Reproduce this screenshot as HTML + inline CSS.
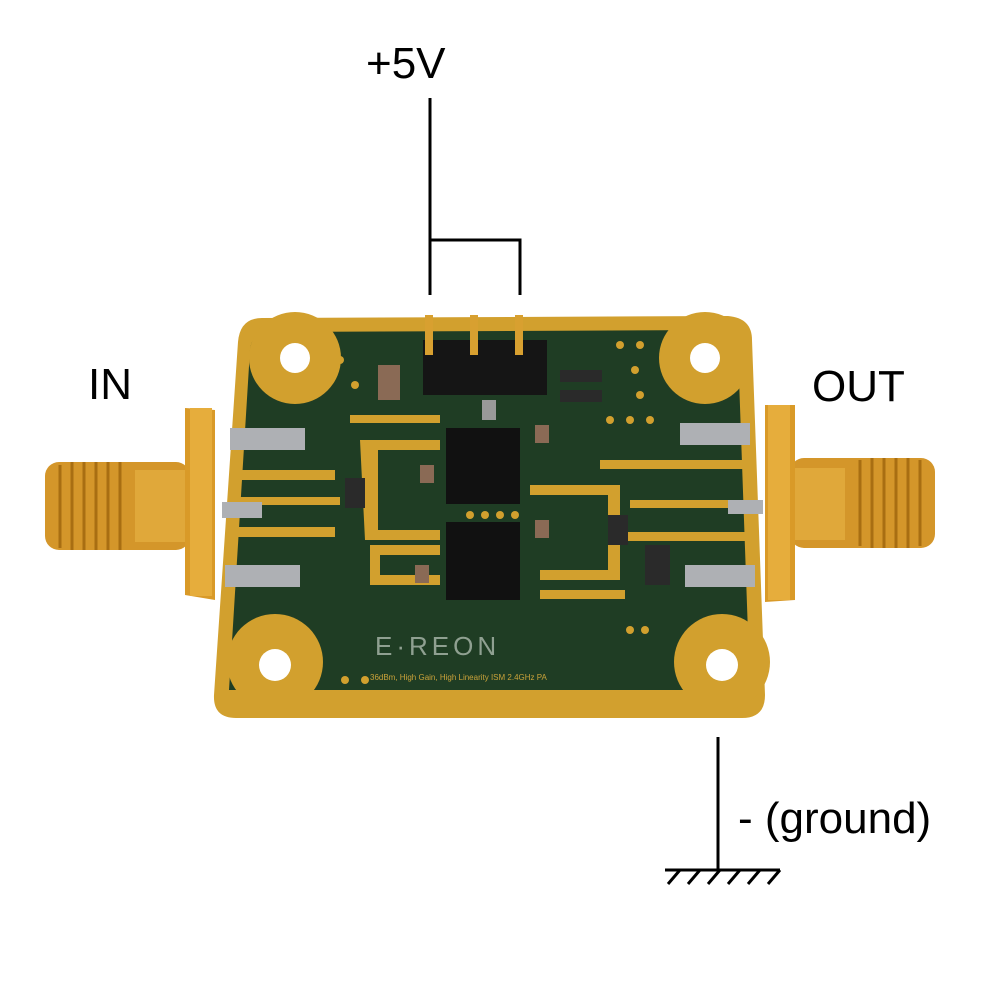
<!DOCTYPE html>
<html><head><style>
html,body{margin:0;padding:0;background:#fff;}
svg{display:block}
text{font-family:"Liberation Sans",sans-serif;}
</style></head><body>
<svg width="1000" height="1000" viewBox="0 0 1000 1000">
<rect width="1000" height="1000" fill="#fff"/>
<!-- labels -->
<text x="366" y="78" font-size="44" fill="#000">+5V</text>
<text x="88" y="399" font-size="44" fill="#000">IN</text>
<text x="812" y="401" font-size="44" fill="#000">OUT</text>
<text x="738" y="833" font-size="44" fill="#000">- (ground)</text>
<!-- wires -->
<g stroke="#000" stroke-width="3" fill="none">
<path d="M430 98 V295 M430 240 H520 V295"/>
<path d="M718 737 V870 M665 870 H780"/>
<path d="M680 870 l-12 14 M700 870 l-12 14 M720 870 l-12 14 M740 870 l-12 14 M760 870 l-12 14 M780 870 l-12 14"/>
</g>
<!-- left SMA -->
<rect x="45" y="462" width="145" height="88" rx="14" fill="#d4962a"/>
<g stroke="#a86e12" stroke-width="3">
<path d="M60 465 V548 M72 462 V550 M84 462 V550 M96 462 V550 M108 462 V550 M120 462 V550"/>
</g>
<rect x="135" y="470" width="50" height="72" fill="#e0a83a"/>
<polygon points="185,408 215,410 215,600 185,595" fill="#d99a28"/>
<rect x="190" y="408" width="22" height="188" fill="#e6ad3c"/>
<!-- right SMA -->
<rect x="790" y="458" width="145" height="90" rx="14" fill="#d4962a"/>
<g stroke="#a86e12" stroke-width="3">
<path d="M860 460 V546 M872 458 V548 M884 458 V548 M896 458 V548 M908 458 V548 M920 460 V546"/>
</g>
<rect x="795" y="468" width="50" height="72" fill="#e0a83a"/>
<polygon points="765,405 795,405 795,600 765,602" fill="#d99a28"/>
<rect x="768" y="405" width="22" height="195" fill="#e6ad3c"/>
<!-- board -->
<path d="M262 318 L728 316 Q752 318 752 340 L765 695 Q765 718 742 718 L236 718 Q213 718 214 695 L238 342 Q240 318 262 318 Z" fill="#d2a02e"/>
<path d="M270 332 L720 330 Q738 332 738 350 L750 690 Q750 705 735 705 L243 705 Q228 705 229 690 L250 350 Q252 332 270 332 Z" fill="#1f3d24"/>
<!-- corner pads -->
<g fill="#d2a02e">
<circle cx="295" cy="358" r="46"/><circle cx="705" cy="358" r="46"/>
<circle cx="275" cy="662" r="48"/><circle cx="722" cy="662" r="48"/>
<rect x="228" y="690" width="522" height="15"/>
</g>
<g fill="#fff"><circle cx="295" cy="358" r="15"/><circle cx="705" cy="358" r="15"/><circle cx="275" cy="665" r="16"/><circle cx="722" cy="665" r="16"/></g>
<!-- RF traces -->
<g fill="#d2a02e">
<rect x="235" y="497" width="105" height="8"/>
<rect x="235" y="470" width="100" height="10"/>
<rect x="235" y="527" width="100" height="10"/>
<path d="M360 440 L440 440 L440 450 L378 450 L378 530 L440 530 L440 540 L365 540 Z"/>
<path d="M370 545 L440 545 L440 555 L380 555 L380 575 L440 575 L440 585 L370 585 Z"/>
<path d="M530 485 L620 485 L620 580 L540 580 L540 570 L608 570 L608 495 L530 495 Z"/>
<rect x="600" y="460" width="150" height="9"/>
<rect x="630" y="500" width="120" height="8"/>
<rect x="625" y="532" width="125" height="9"/>
<rect x="540" y="590" width="85" height="9"/>
<rect x="350" y="415" width="90" height="8"/>
</g>
<!-- ICs -->
<rect x="446" y="428" width="74" height="76" fill="#111"/>
<rect x="446" y="522" width="74" height="78" fill="#111"/>
<!-- header -->
<rect x="423" y="340" width="124" height="55" fill="#151515"/>
<g fill="#d8a030"><rect x="425" y="315" width="8" height="40"/><rect x="470" y="315" width="8" height="40"/><rect x="515" y="315" width="8" height="40"/></g>
<rect x="482" y="400" width="14" height="20" fill="#999"/>
<!-- tab pads -->
<g fill="#aeb0b4">
<rect x="230" y="428" width="75" height="22"/><rect x="225" y="565" width="75" height="22"/>
<rect x="680" y="423" width="70" height="22"/><rect x="685" y="565" width="70" height="22"/>
<rect x="222" y="502" width="40" height="16"/><rect x="728" y="500" width="35" height="14"/>
</g>
<!-- small comps -->
<g fill="#8a6a55"><rect x="378" y="365" width="22" height="35"/><rect x="535" y="425" width="14" height="18"/><rect x="420" y="465" width="14" height="18"/><rect x="535" y="520" width="14" height="18"/><rect x="415" y="565" width="14" height="18"/></g>
<g fill="#2a2a2a"><rect x="560" y="370" width="42" height="12"/><rect x="560" y="390" width="42" height="12"/><rect x="345" y="478" width="20" height="30"/><rect x="608" y="515" width="20" height="30"/><rect x="645" y="545" width="25" height="40"/></g>
<!-- via dots -->
<g fill="#d2a02e">
<circle cx="340" cy="360" r="4"/><circle cx="355" cy="385" r="4"/><circle cx="620" cy="345" r="4"/><circle cx="640" cy="345" r="4"/><circle cx="635" cy="370" r="4"/><circle cx="640" cy="395" r="4"/><circle cx="610" cy="420" r="4"/><circle cx="630" cy="420" r="4"/><circle cx="650" cy="420" r="4"/>
<circle cx="470" cy="515" r="4"/><circle cx="485" cy="515" r="4"/><circle cx="500" cy="515" r="4"/><circle cx="515" cy="515" r="4"/>
<circle cx="630" cy="630" r="4"/><circle cx="645" cy="630" r="4"/><circle cx="345" cy="680" r="4"/><circle cx="365" cy="680" r="4"/>
</g>
<text x="375" y="655" font-size="26" fill="#8fa091" letter-spacing="4">E·REON</text>
<text x="370" y="680" font-size="8" fill="#c9a23a">36dBm, High Gain, High Linearity ISM 2.4GHz PA</text>
</svg>
</body></html>
